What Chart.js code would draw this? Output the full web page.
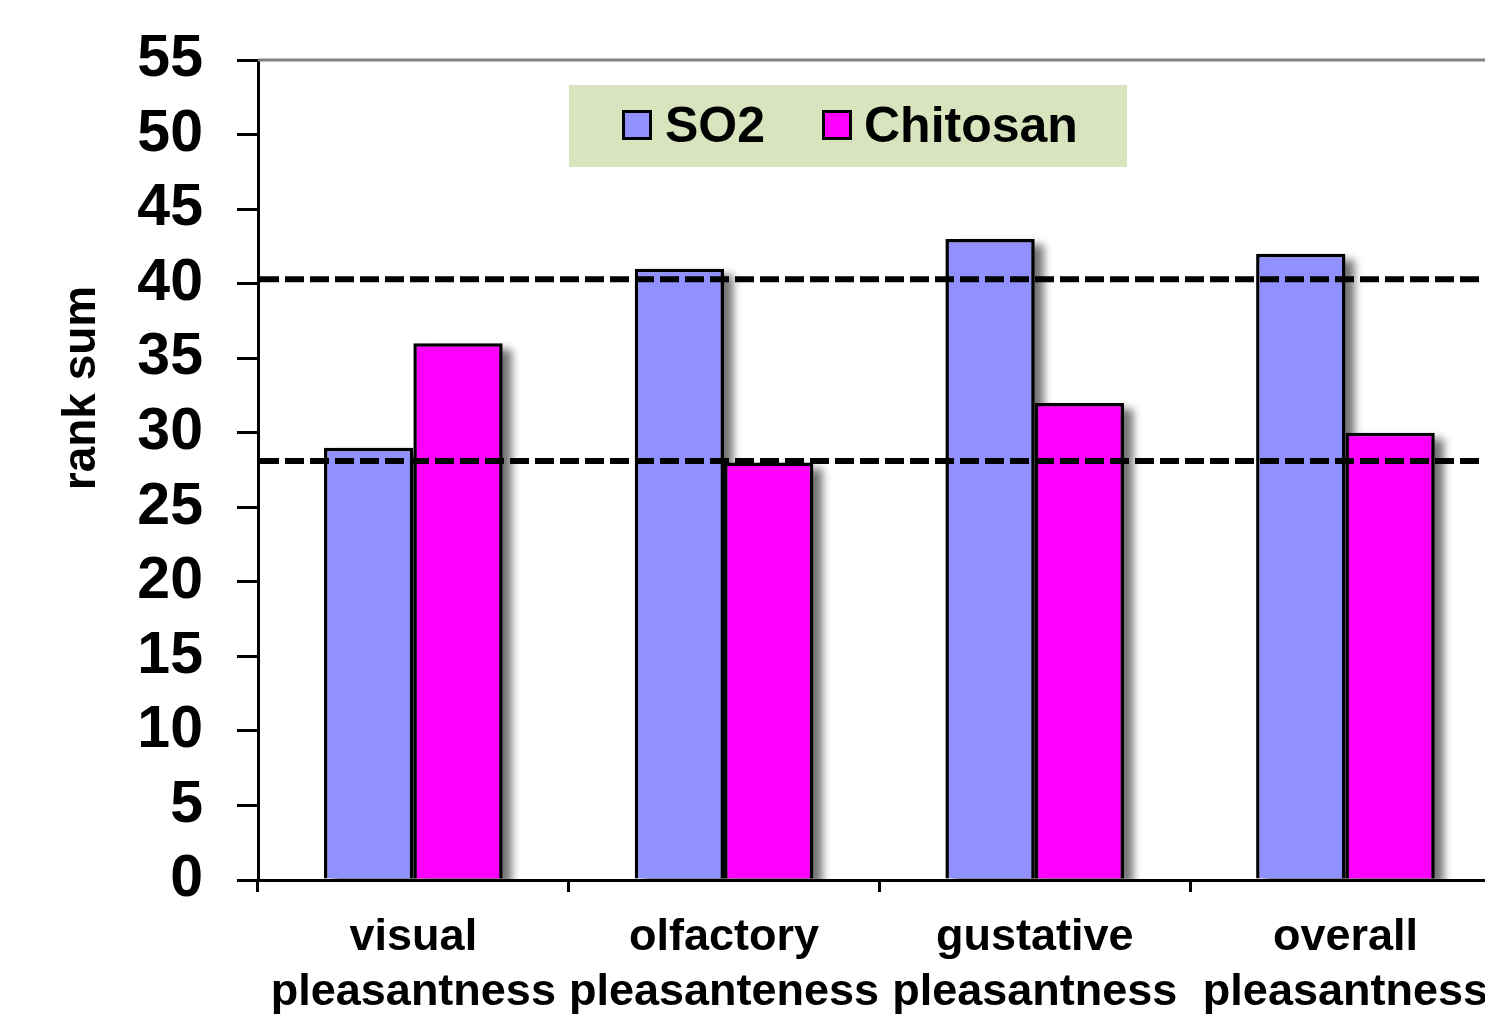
<!DOCTYPE html>
<html>
<head>
<meta charset="utf-8">
<script src="https://cdn.jsdelivr.net/npm/chart.js@4.4.1/dist/chart.umd.min.js"></script>
<style>
  html, body { margin: 0; padding: 0; background: #fff; overflow: hidden; }
  canvas { display: block; }
</style>
</head>
<body>
<canvas id="myChart" width="1506" height="1016"></canvas>
<script>
// data
const categories = [['visual', 'pleasantness'], ['olfactory', 'pleasanteness'], ['gustative', 'pleasantness'], ['overall', 'pleasantness']];
const so2 = [29, 41, 43, 42];
const chitosan = [36, 28, 32, 30];
const refLines = [40.3, 28.1];   // dashed lines
const yMin = 0, yMax = 55, yStep = 5;
const yTitle = 'rank sum';

const FONT = "'Liberation Sans', Arial, sans-serif";

// soft grey shadow behind all bars, drawn before the bars themselves
const barShadow = {
  id: 'barShadow',
  beforeDatasetsDraw(chart) {
    const c = chart.ctx;
    const area = chart.chartArea;
    c.save();
    c.beginPath();
    c.rect(area.left, area.top, area.right - area.left, area.bottom - area.top);
    c.clip();
    c.filter = 'blur(4px)';
    c.fillStyle = 'rgba(0,0,0,0.55)';
    chart.data.datasets.forEach((d, i) => {
      chart.getDatasetMeta(i).data.forEach(el => {
        const p = el.getProps(['x', 'y', 'base', 'width'], true);
        c.fillRect(p.x - p.width / 2 + 9, p.y + 6, p.width, p.base - p.y);
      });
    });
    c.restore();
  }
};

// dashed reference lines, top frame line, axis title and the legend box
const overlay = {
  id: 'overlay',
  afterDatasetsDraw(chart) {
    const c = chart.ctx;
    const area = chart.chartArea;
    const y = chart.scales.y;

    c.save();
    c.strokeStyle = '#808080';
    c.lineWidth = 3;
    c.beginPath();
    c.moveTo(area.left, area.top);
    c.lineTo(area.right, area.top);
    c.stroke();

    c.strokeStyle = '#000';
    c.lineWidth = 6;
    c.setLineDash([19, 6]);
    refLines.forEach(v => {
      const py = y.getPixelForValue(v);
      c.beginPath();
      c.moveTo(area.left + 2, py);
      c.lineTo(area.right, py);
      c.stroke();
    });
    c.setLineDash([]);

    // y title (sits above the middle of the axis in the original)
    c.save();
    c.translate(82, 388);
    c.rotate(-Math.PI / 2);
    c.font = 'bold 46px ' + FONT;
    c.fillStyle = '#000';
    c.textAlign = 'center';
    c.textBaseline = 'middle';
    c.fillText(yTitle, 0, 0);
    c.restore();

    // legend
    c.fillStyle = '#d7e4bd';
    c.fillRect(569, 85, 558, 82);
    const items = chart.data.datasets.map(d => ({ text: d.label, color: d.backgroundColor }));
    const xs = [[622, 665], [822, 864]];
    c.font = 'bold 50px ' + FONT;
    c.textBaseline = 'alphabetic';
    items.forEach((it, i) => {
      const [bx, tx] = xs[i];
      c.fillStyle = '#000';
      c.fillRect(bx, 110, 30, 30);
      c.fillStyle = it.color;
      c.fillRect(bx + 3, 113, 24, 24);
      c.fillStyle = '#000';
      c.fillText(it.text, tx, 142);
    });
    c.restore();
  }
};

new Chart(document.getElementById('myChart'), {
  type: 'bar',
  data: {
    labels: categories,
    datasets: [
      {
        label: 'SO2',
        data: so2,
        backgroundColor: '#9090ff',
        borderColor: '#000',
        borderWidth: 3.5
      },
      {
        label: 'Chitosan',
        data: chitosan,
        backgroundColor: '#ff00ff',
        borderColor: '#000',
        borderWidth: 3.5
      }
    ]
  },
  options: {
    responsive: false,
    animation: false,
    devicePixelRatio: 1,
    layout: { padding: { top: 60, left: 0, right: 0, bottom: 0 } },
    datasets: { bar: { categoryPercentage: 0.575, barPercentage: 1.0 } },
    plugins: {
      legend: { display: false },
      tooltip: { enabled: false }
    },
    scales: {
      x: {
        offset: true,
        grid: { offset: true, drawOnChartArea: false, color: '#000', lineWidth: 3, tickLength: 12 },
        border: { color: '#000', width: 3 },
        ticks: {
          color: '#000',
          padding: 18,
          maxRotation: 0,
          autoSkip: false,
          font: { family: FONT, size: 45, weight: 'bold', lineHeight: 1.222 }
        },
        afterFit(scale) { scale.height = 136; }
      },
      y: {
        min: yMin,
        max: yMax,
        grid: { drawOnChartArea: false, color: '#000', lineWidth: 3, tickLength: 21 },
        border: { color: '#000', width: 3 },
        ticks: {
          stepSize: yStep,
          maxTicksLimit: 20,
          autoSkip: false,
          color: '#000',
          padding: 34,
          font: { family: FONT, size: 59, weight: 'bold' }
        },
        afterFit(scale) {
          scale.width = 258;
          scale.paddingTop = 0;
          scale.paddingBottom = 0;
        }
      }
    }
  },
  plugins: [barShadow, overlay]
});
</script>
</body>
</html>
